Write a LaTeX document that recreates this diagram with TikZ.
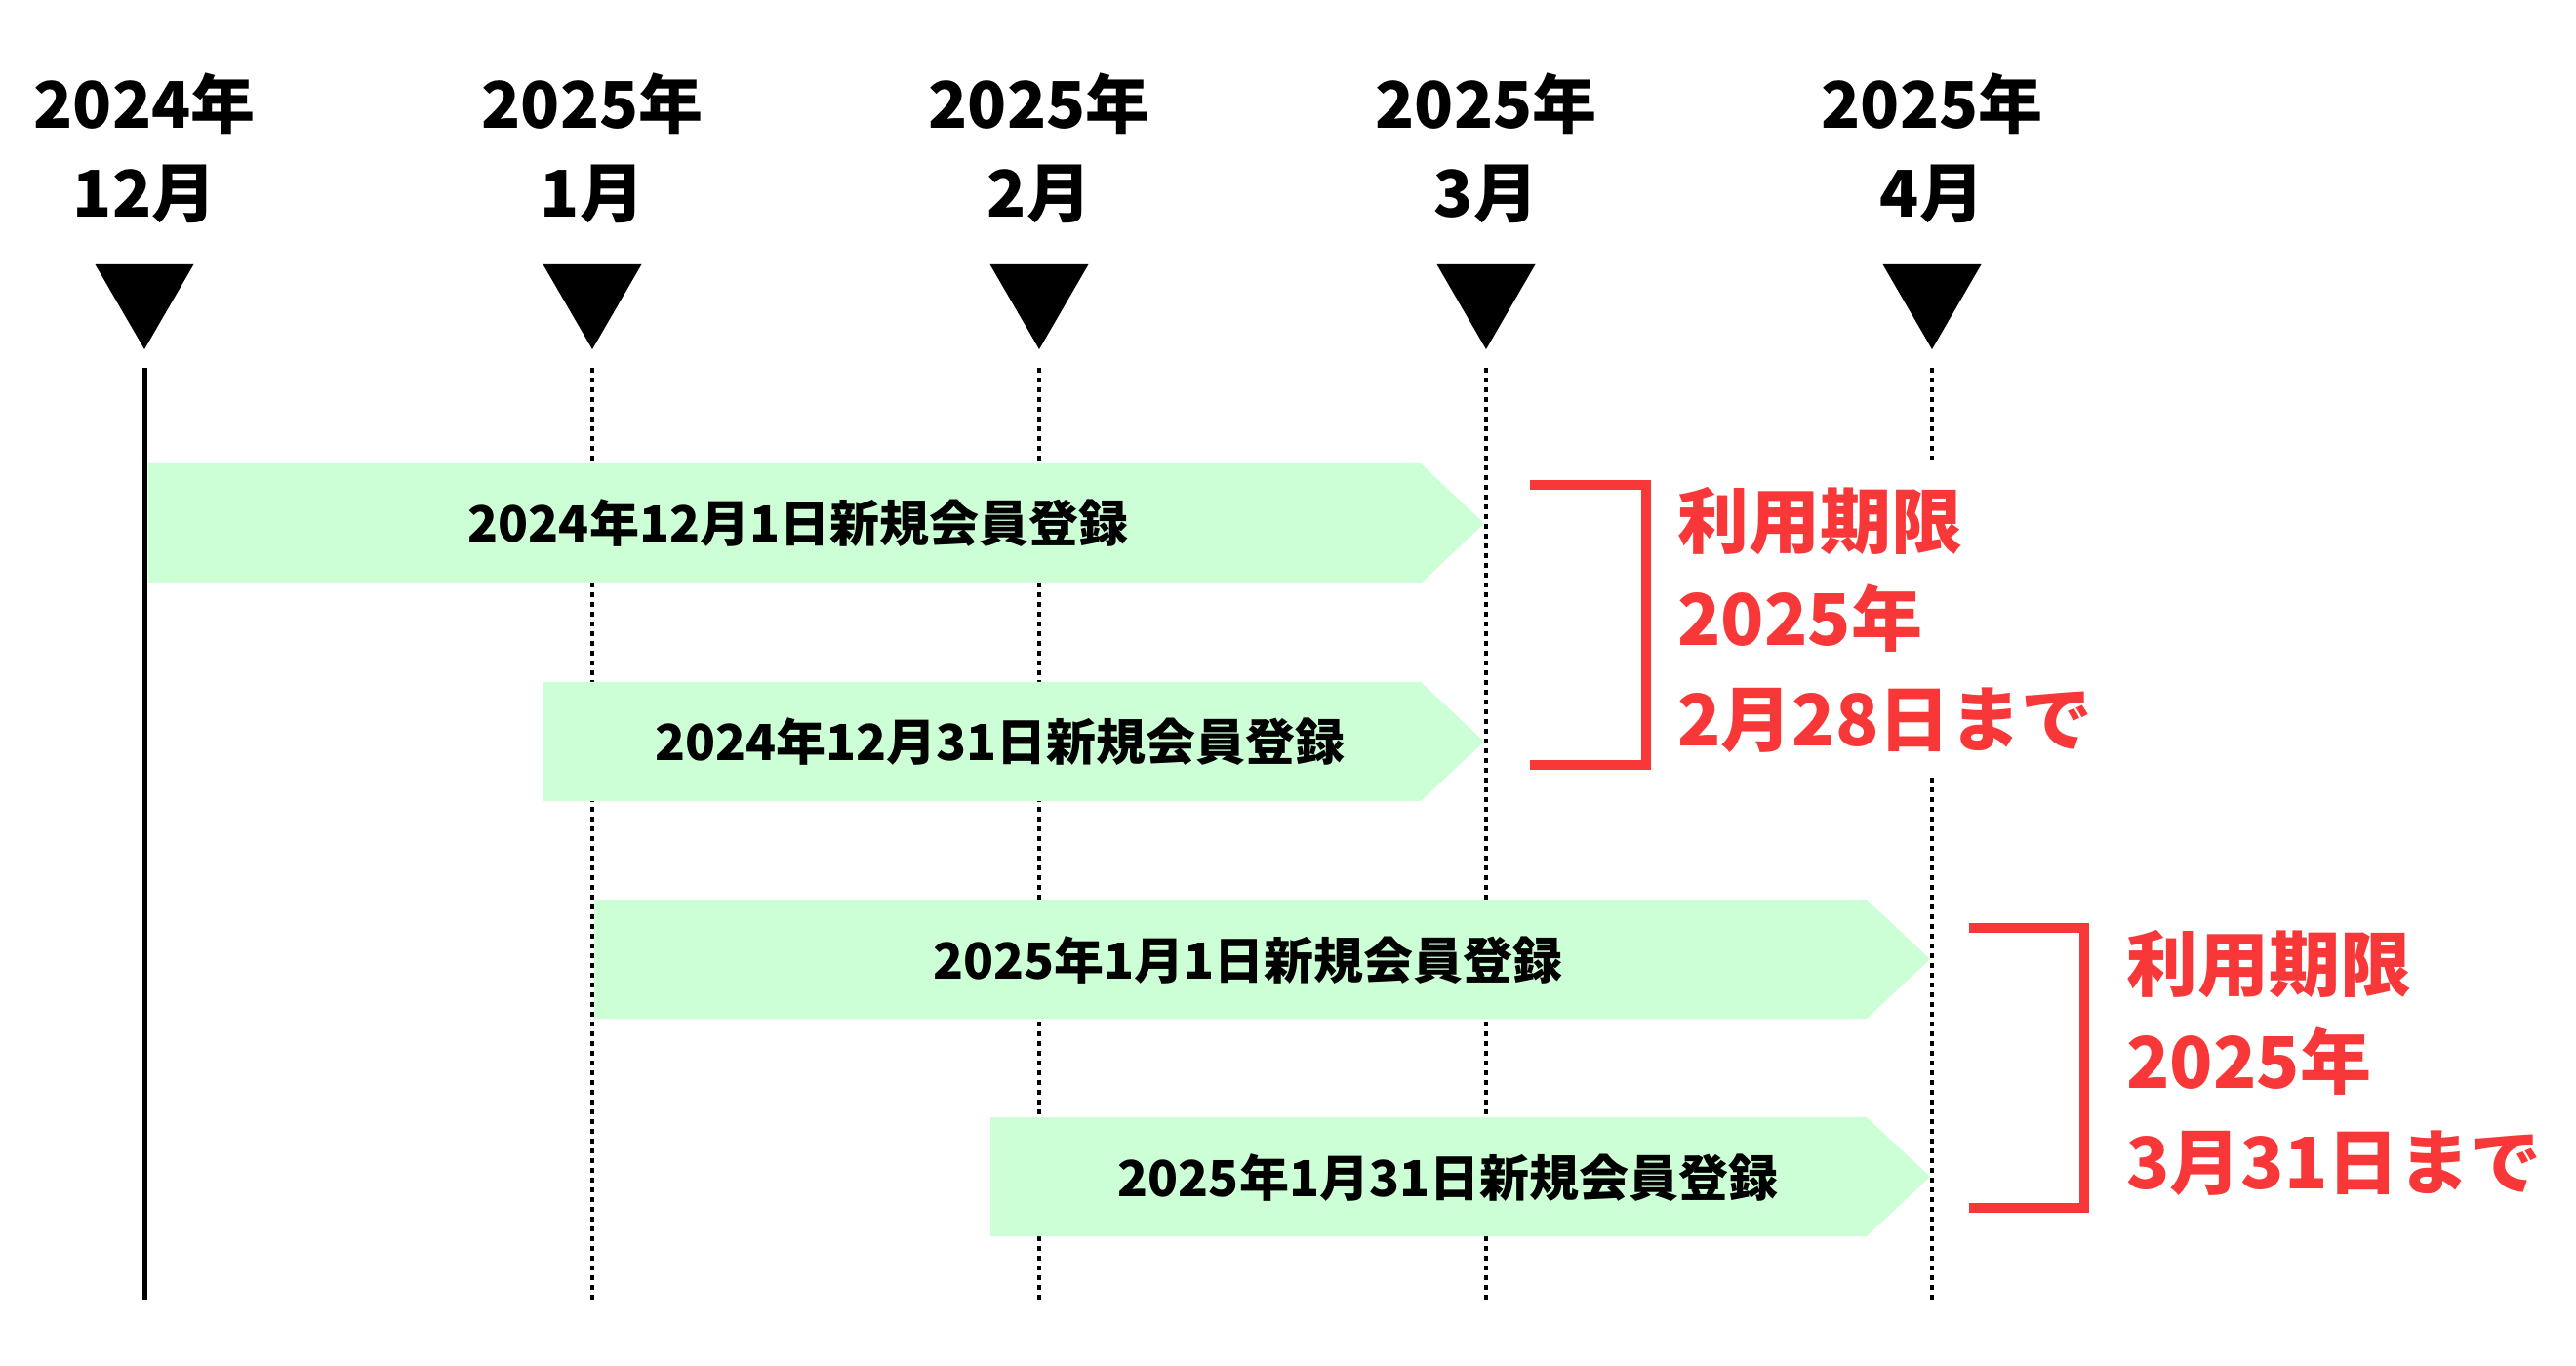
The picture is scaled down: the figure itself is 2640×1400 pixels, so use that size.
\documentclass[tikz,border=0pt]{standalone}
\usepackage{fontspec}
\setmainfont{Noto Sans CJK JP}
\definecolor{mint}{HTML}{CCFFD6}
\definecolor{redT}{HTML}{F83838}
\begin{document}
\begin{tikzpicture}[x=0.5pt,y=-0.5pt,
  toplabel/.style={font=\fontsize{33pt}{38pt}\selectfont\bfseries, inner sep=0pt, anchor=base},
  barlabel/.style={font=\fontsize{25.5pt}{30pt}\selectfont\bfseries, inner sep=0pt, anchor=base},
  limitlabel/.style={font=\fontsize{36.5pt}{42pt}\selectfont\bfseries, text=redT, inner sep=0pt, anchor=base west},
  bar/.style={fill=mint, draw=none},
  marker/.style={fill=black},
  solidline/.style={line width=2.5pt},
  dotline/.style={line width=2.25pt, dash pattern=on 2.5pt off 2.5pt},
  bracket/.style={draw=redT, line width=5pt}
]
\fill[white] (0,0) rectangle (2640,1400);
\useasboundingbox (0,0) rectangle (2640,1400);

% column coordinates
\foreach \i/\x in {1/148,2/607,3/1065,4/1523,5/1980}{
  \coordinate (top\i) at (\x,377);
  \coordinate (bot\i) at (\x,1332);
  \fill[marker] ({\x-50.5},271) -- ({\x+50.5},271) -- (\x,358) -- cycle;
}
\coordinate (gapA5) at (1980,471);
\coordinate (gapB5) at (1980,797);

% top labels
\node[toplabel] (y1) at (148,132) {2024年};
\node[toplabel] (m1) at (148,223) {12月};
\node[toplabel] (y2) at (607,132) {2025年};
\node[toplabel] (m2) at (607,223) {1月};
\node[toplabel] (y3) at (1065,132) {2025年};
\node[toplabel] (m3) at (1065,223) {2月};
\node[toplabel] (y4) at (1523,132) {2025年};
\node[toplabel] (m4) at (1523,223) {3月};
\node[toplabel] (y5) at (1980,132) {2025年};
\node[toplabel] (m5) at (1980,223) {4月};

% vertical lines
\draw[solidline] (top1) -- (bot1);
\draw[dotline] (top2) -- (bot2);
\draw[dotline] (top3) -- (bot3);
\draw[dotline] (top4) -- (bot4);
\draw[dotline] (top5) -- (gapA5);
\draw[dotline] (gapB5) -- (bot5);

% bars
\fill[bar] (152,475) -- (1456,475) -- (1521,536.5) -- (1456,598) -- (152,598) -- cycle;
\fill[bar] (557,699) -- (1456,699) -- (1521,760) -- (1456,821) -- (557,821) -- cycle;
\fill[bar] (609,922) -- (1913,922) -- (1978,983) -- (1913,1044) -- (609,1044) -- cycle;
\fill[bar] (1015,1145) -- (1913,1145) -- (1978,1206) -- (1913,1267) -- (1015,1267) -- cycle;

\node[barlabel] (t1) at (818,556) {2024年12月1日新規会員登録};
\node[barlabel] (t2) at (1025,780) {2024年12月31日新規会員登録};
\node[barlabel] (t3) at (1279,1003) {2025年1月1日新規会員登録};
\node[barlabel] (t4) at (1484,1226) {2025年1月31日新規会員登録};

% brackets
\draw[bracket] (1568,497) -- (1687,497) -- (1687,784) -- (1568,784);
\draw[bracket] (2018,951) -- (2136,951) -- (2136,1238) -- (2018,1238);

\node[limitlabel] (l1a) at (1719,562) {利用期限};
\node[limitlabel] (l1b) at (1719,662) {2025年};
\node[limitlabel] (l1c) at (1719,765) {2月28日まで};
\node[limitlabel] (l2a) at (2179,1015) {利用期限};
\node[limitlabel] (l2b) at (2179,1115) {2025年};
\node[limitlabel] (l2c) at (2179,1218) {3月31日まで};
\end{tikzpicture}
\end{document}
